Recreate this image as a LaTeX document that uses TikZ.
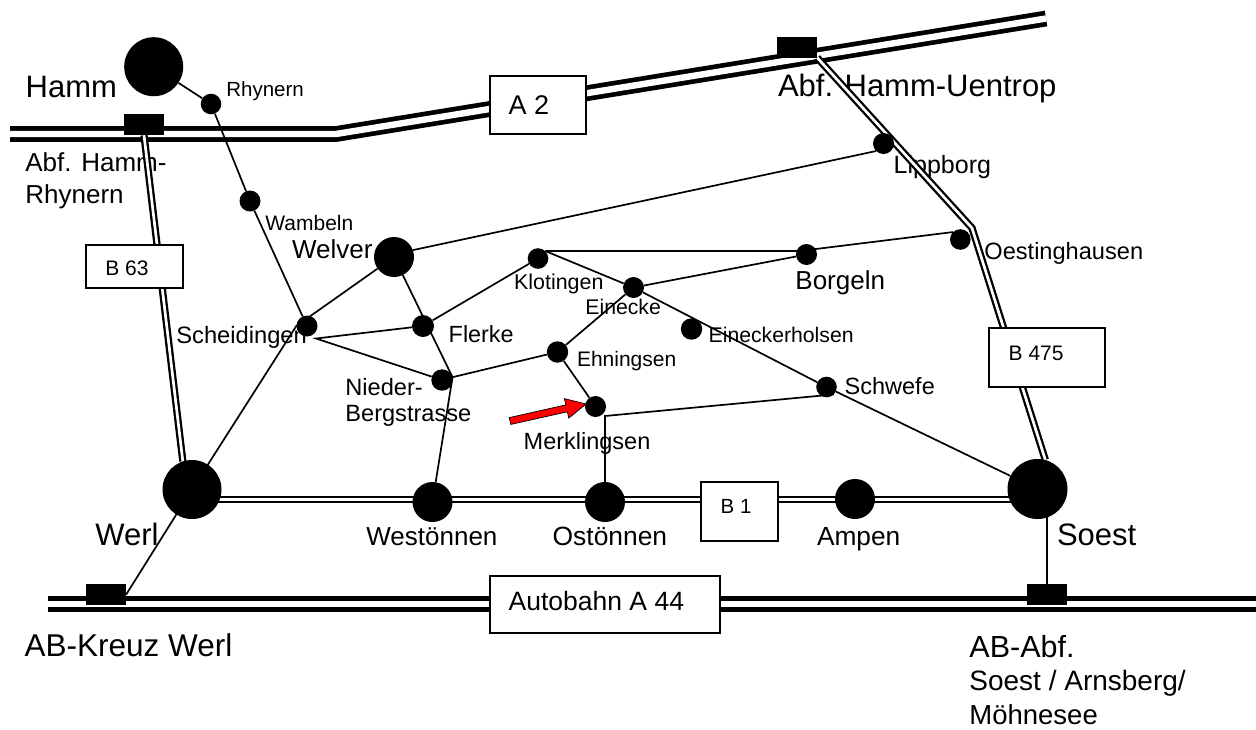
\documentclass[tikz,border=0pt]{standalone}
\usepackage{fontspec}
\setmainfont{Liberation Sans}
\pgfdeclarelayer{lab}
\pgfdeclarelayer{bg}
\pgfsetlayers{lab,bg,main}
\begin{document}
\begin{tikzpicture}[x=1pt,y=-1pt,
  fs/.style={font=\fontsize{#1}{#1}\selectfont},
  lbl/.style={anchor=base west, inner sep=0pt, xshift=-1.5pt, fs=#1},
  town/.style={circle, fill=black, inner sep=0pt, minimum size=#1},
  exitbox/.style={rectangle, fill=black, inner sep=0pt, minimum width=40pt, minimum height=21pt},
  signbox/.style={rectangle, draw=black, line width=1.8pt, fill=white, inner sep=0pt},
  conn/.style={line width=1.7pt},
  autobahn/.style={line width=4.7pt, double=white, double distance=6.4pt},
  bstr/.style={line width=2.3pt, double=white, double distance=2.7pt},
]
\useasboundingbox (0,0) rectangle (1256,729);

% towns
\node[town=59pt] (hamm) at (153.7,66.7) {};
\node[town=20.6pt] (rhy) at (211,104) {};
\node[town=21pt] (wam) at (250,201) {};
\node[town=21pt] (sch) at (307,326) {};
\node[town=40pt] (wel) at (394,257) {};
\node[town=22pt] (fle) at (423,326) {};
\node[town=21.4pt] (nie) at (442,380) {};
\node[town=20.6pt] (klo) at (538,258.5) {};
\node[town=21pt] (ein) at (633.5,287.5) {};
\node[town=21.4pt] (eih) at (691.5,329) {};
\node[town=21.4pt] (ehn) at (557.5,352) {};
\node[town=21pt] (mer) at (595.5,406.5) {};
\node[town=20.6pt] (schw) at (826.5,387) {};
\node[town=21pt] (bor) at (806.5,254.5) {};
\node[town=20.6pt] (oes) at (960.3,239.5) {};
\node[town=21pt] (lip) at (883.5,143.5) {};
\node[town=40pt] (wes) at (432.5,502) {};
\node[town=40pt] (ost) at (605,502) {};
\node[town=40pt] (amp) at (855,499) {};
\node[town=59pt] (werl) at (192,489.5) {};
\node[town=60pt] (soe) at (1037.5,489) {};

% motorway exits
\node[exitbox] (hex) at (144,124.5) {};
\node[exitbox] (uex) at (797,47) {};
\node[exitbox] (kex) at (106,594.5) {};
\node[exitbox] (sex) at (1047,594.5) {};

% road signs
\node[signbox, minimum width=96pt, minimum height=58pt] (a2) at (538,105) {};
\node[signbox, minimum width=97pt, minimum height=43pt] (b63) at (134.5,266.5) {};
\node[signbox, minimum width=77pt, minimum height=59pt] (b1) at (739.5,511.5) {};
\node[signbox, minimum width=116pt, minimum height=59pt] (b475) at (1047,357.5) {};
\node[signbox, minimum width=230pt, minimum height=57pt] (a44) at (605,604.5) {};
\node[lbl=27] (a2t) at (510,114) {A 2};
\node[lbl=21] (b63t) at (106.7,275.7) {B 63};
\node[lbl=20.5] (b1t) at (722,513.3) {B 1};
\node[lbl=21] (b475t) at (1010,360) {B 475};
\node[lbl=26.5] (a44t) at (510,610) {Autobahn A 44};

% red arrow
\filldraw[fill=red, draw=black, line width=0.7pt] (509.2,417.6) -- (565.8,404.9) -- (564.4,398.6) -- (586.1,404.0) -- (568.8,418.1) -- (567.4,411.8) -- (510.8,424.4) -- cycle;

\begin{pgfonlayer}{lab}
\node[lbl=31] (tHamm) at (27,97) {Hamm};
\node[lbl=20.5] (tRhy) at (227.7,96) {Rhynern};
\node[lbl=26] (tAbfHa) at (26.7,171.7) {Abf. Hamm-};
\node[lbl=26] (tAbfHb) at (26.7,203.3) {Rhynern};
\node[lbl=21] (tWam) at (266.7,230) {Wambeln};
\node[lbl=26] (tWel) at (293.3,258.3) {Welver};
\node[lbl=23.7] (tSch) at (177.7,343.3) {Scheidingen};
\node[lbl=23.4] (tFle) at (450,342.3) {Flerke};
\node[lbl=23.6] (tNiea) at (346.7,395) {Nieder-};
\node[lbl=23.6] (tNieb) at (346.7,421.7) {Bergstrasse};
\node[lbl=21.4] (tKlo) at (515.5,289.5) {Klotingen};
\node[lbl=21.2] (tEin) at (586.7,314.3) {Einecke};
\node[lbl=21.2] (tEih) at (710,342.7) {Eineckerholsen};
\node[lbl=21] (tEhn) at (578.3,366.7) {Ehningsen};
\node[lbl=23.5] (tMer) at (525,449.3) {Merklingsen};
\node[lbl=26] (tBor) at (796.7,289.3) {Borgeln};
\node[lbl=23.5] (tSchw) at (846,394.3) {Schwefe};
\node[lbl=23.6] (tOes) at (985.7,259) {Oestinghausen};
\node[lbl=25] (tLip) at (895,173.3) {Lippborg};
\node[lbl=31] (tUen) at (779.3,96) {Abf. Hamm-Uentrop};
\node[lbl=31] (tWerl) at (96.7,545) {Werl};
\node[lbl=26] (tWes) at (367.7,545) {Westönnen};
\node[lbl=26.4] (tOst) at (554,545) {Ostönnen};
\node[lbl=26.3] (tAmp) at (818.3,545) {Ampen};
\node[lbl=31] (tSoe) at (1058.3,545) {Soest};
\node[lbl=31.5] (tKreuz) at (26,656) {AB-Kreuz Werl};
\node[lbl=30.5] (tSabA) at (970.7,657.3) {AB-Abf.};
\node[lbl=28] (tSabB) at (970.7,690.7) {Soest / Arnsberg/};
\node[lbl=27.5] (tSabC) at (970.7,724.5) {Möhnesee};
\end{pgfonlayer}

\begin{pgfonlayer}{bg}
% motorways
\coordinate (a2w) at (10,134);
\coordinate (a2k) at (336,134);
\coordinate (a2e) at (1046,18.5);
\draw[autobahn] (a2w) -- (a2k) -- (a2e);
\coordinate (a44w) at (48,604);
\coordinate (a44e) at (1256,604);
\draw[autobahn] (a44w) -- (a44e);
% federal roads
\draw[bstr] (hex.south) -- (werl.108);
\coordinate (bk) at (972,228);
\draw[bstr] (uex.south east) -- (bk) -- (soe.75);
\coordinate (b1w) at (215,499.5);
\coordinate (b1e) at (1015,499.5);
\draw[bstr] (b1w) -- (b1e);
% local roads
\draw[conn] (hamm) -- (rhy) -- (wam) -- (sch);
\draw[conn] (kex.east) -- (werl.center) -- (sch.west) -- (wel);
\coordinate (scv) at (316,338.5);
\draw[conn] (fle) -- (scv) -- (nie);
\draw[conn] (wel) -- (nie.15) -- (wes);
\draw[conn] (fle) -- (klo);
\draw[conn] (nie.15) -- (ehn) -- (ein) -- (bor);
\draw[conn] (ehn) -- (mer);
\coordinate (mc) at (605,416);
\draw[conn] (ost) -- (mc) -- (schw.south east);
\draw[conn] (klo.north east) -- (klo.north east -| bor.north west) -- (oes.north west);
\draw[conn] (klo.north east) -- (ein) -- (schw) -- (soe);
\draw[conn] (wel.20) -- (lip.south west);
\draw[conn] (sex.north) -- (sex.north |- soe.center);
\end{pgfonlayer}
\end{tikzpicture}
\end{document}
